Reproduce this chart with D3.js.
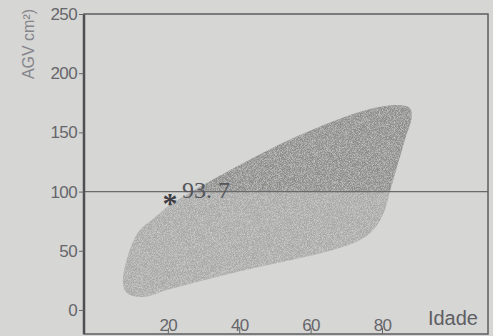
<!DOCTYPE html>
<html>
<head>
<meta charset="utf-8">
<script src="https://cdn.jsdelivr.net/npm/d3@7"></script>
<style>
  body { margin: 0; background: #d6d6d4; }
  svg { display: block; }
</style>
</head>
<body>
<svg id="chart" width="493" height="336"></svg>
<script>
// outline of the reference region (age, AGV)
const outlineAge = [7.4, 9.0, 12.0, 15.5, 20.6, 29, 36.5, 57, 75.7, 85, 87.8, 88.3, 86.4, 82.2, 80.8, 78, 73.8, 66.2, 38.2, 19.7, 13, 8.5];
const outlineAgv = [22.8, 48, 67, 76, 88.7, 104, 116.6, 147.8, 169, 173, 170.6, 163, 143.6, 99.7, 84.5, 69.3, 59, 50.7, 31.3, 16.9, 11, 14.4];
const xTicks = [20, 40, 60, 80];
const yTicks = [0, 50, 100, 150, 200, 250];
const refLine = 100;
const patientAge = 20.6;
const patientAgv = 93.7;

const margin = {left: 84, top: 14, right: 5, bottom: 2};
const width = 493 - margin.left - margin.right;
const height = 336 - margin.top - margin.bottom;

const svg = d3.select('#chart');
const g = svg.append('g')
  .attr('transform', 'translate(' + margin.left + ',' + margin.top + ')');

const x = d3.scaleLinear().domain([-3.5, 109.7]).range([0, width]);
const y = d3.scaleLinear().domain([-20.3, 250]).range([height, 0]);

// speckle texture for the region
const defs = svg.append('defs');
const f = defs.append('filter').attr('id', 'grain');
f.append('feTurbulence').attr('type', 'fractalNoise').attr('baseFrequency', 1.4).attr('numOctaves', 1).attr('result', 'n');
f.append('feColorMatrix').attr('in', 'n').attr('type', 'matrix')
  .attr('values', '0 0 0 0 0.85  0 0 0 0 0.85  0 0 0 0 0.85  0 0 0 1.2 -0.45').attr('result', 'm');
f.append('feComposite').attr('in', 'm').attr('in2', 'SourceGraphic').attr('operator', 'in').attr('result', 'c');
const fm = f.append('feMerge');
fm.append('feMergeNode').attr('in', 'SourceGraphic');
fm.append('feMergeNode').attr('in', 'c');

defs.append('clipPath').attr('id', 'upper')
  .append('rect').attr('x', 0).attr('y', 0).attr('width', width).attr('height', y(refLine));
defs.append('clipPath').attr('id', 'lower')
  .append('rect').attr('x', 0).attr('y', y(refLine)).attr('width', width).attr('height', height - y(refLine));

const pts = outlineAge.map((a, i) => [a, outlineAgv[i]]);
const blob = d3.line()
  .x(d => x(d[0]))
  .y(d => y(d[1]))
  .curve(d3.curveCatmullRomClosed.alpha(0.5));

g.append('path').attr('d', blob(pts)).attr('fill', '#8c8c8b')
  .attr('clip-path', 'url(#upper)').attr('filter', 'url(#grain)');
g.append('path').attr('d', blob(pts)).attr('fill', '#a8a8a7')
  .attr('clip-path', 'url(#lower)').attr('filter', 'url(#grain)');

// reference line
g.append('line')
  .attr('x1', 0).attr('x2', width)
  .attr('y1', y(refLine)).attr('y2', y(refLine))
  .attr('stroke', '#6a6a6c').attr('stroke-width', 1.2);

// frame
g.append('rect').attr('x', 0).attr('y', 0).attr('width', width).attr('height', height)
  .attr('fill', 'none').attr('stroke', '#5e5e62').attr('stroke-width', 1.5);
g.append('line').attr('x1', 0).attr('x2', 0).attr('y1', 0).attr('y2', height)
  .attr('stroke', '#4e4e54').attr('stroke-width', 2.5);

// y axis
const yAxis = g.append('g')
  .call(d3.axisLeft(y).tickValues(yTicks).tickSize(5).tickPadding(2));
yAxis.select('.domain').remove();
yAxis.selectAll('line').attr('stroke', '#666');
yAxis.selectAll('text')
  .attr('fill', '#66666b')
  .style('font-family', 'Liberation Sans, Arial, sans-serif')
  .style('font-size', '17px')
  .style('letter-spacing', '-0.6px');

// x axis, ticks inside
const xAxis = g.append('g')
  .attr('transform', 'translate(0,' + height + ')')
  .call(d3.axisBottom(x).tickValues(xTicks).tickSize(-6));
xAxis.select('.domain').remove();
xAxis.selectAll('line').attr('stroke', '#666');
xAxis.selectAll('text')
  .attr('y', -3).attr('dy', 0)
  .attr('fill', '#66666b')
  .style('font-family', 'Liberation Sans, Arial, sans-serif')
  .style('font-size', '17px')
  .style('letter-spacing', '-0.6px');

// axis titles
svg.append('text')
  .attr('x', 478).attr('y', 325)
  .attr('text-anchor', 'end')
  .attr('fill', '#5e5e64')
  .style('font-family', 'Liberation Sans, Arial, sans-serif')
  .style('font-size', '20px')
  .text('Idade');

svg.append('text')
  .attr('transform', 'translate(34,44) rotate(-90)')
  .attr('text-anchor', 'middle')
  .attr('fill', '#85858b')
  .style('font-family', 'Liberation Sans, Arial, sans-serif')
  .style('font-size', '16px')
  .text('AGV cm²)');

// patient point
g.append('text')
  .attr('x', x(patientAge)).attr('y', y(patientAgv) + 14)
  .attr('text-anchor', 'middle')
  .attr('fill', '#3e3e44')
  .style('font-family', 'Liberation Serif, serif')
  .style('font-size', '30px')
  .style('font-weight', 'bold')
  .text('*');
g.append('text')
  .attr('x', x(patientAge) + 12).attr('y', y(patientAgv) - 1)
  .attr('fill', '#55555a')
  .style('font-family', 'Liberation Serif, serif')
  .style('font-size', '24px')
  .text(d3.format('.1f')(patientAgv).replace('.', '. '));
</script>
</body>
</html>
